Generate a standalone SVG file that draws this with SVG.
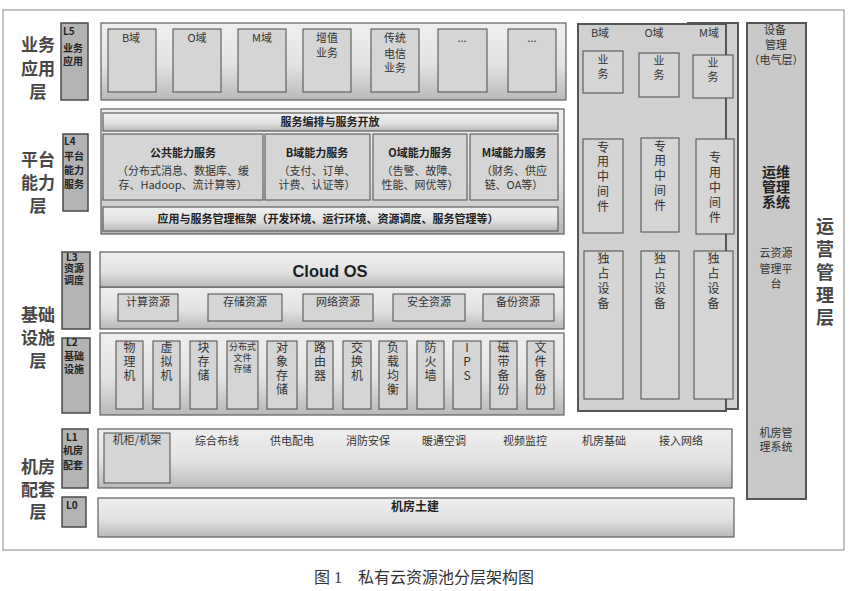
<svg xmlns="http://www.w3.org/2000/svg" width="853" height="591" viewBox="0 0 853 591">
<defs>
<linearGradient id="pg" x1="0" y1="0" x2="0" y2="1">
<stop offset="0" stop-color="#efefef"/>
<stop offset="0.55" stop-color="#e2e2e2"/>
<stop offset="1" stop-color="#b9b9b9"/>
</linearGradient>
<style>
.panel{fill:url(#pg);stroke:#5e5e5e;stroke-width:1.2}
.box{fill:#d5d5d5;stroke:#4a4a4a;stroke-width:1}
.lbox{fill:#b3b3b3;stroke:#4a4a4a;stroke-width:1.5}
.side{fill:#d0d0d0;stroke:#555;stroke-width:2}
.t{font-family:"Noto Sans CJK SC","Liberation Sans",sans-serif;font-size:11px;fill:#333}
.c{text-anchor:middle}
.b{font-weight:bold;fill:#222}
.v{font-family:"Noto Sans CJK SC","Liberation Sans",sans-serif;font-size:12px;fill:#333;text-anchor:middle}
.big{font-family:"Noto Sans CJK SC","Liberation Sans",sans-serif;font-size:17px;font-weight:bold;fill:#474747;text-anchor:middle}
.lt{font-family:"Noto Sans CJK SC","Liberation Sans",sans-serif;font-size:10px;font-weight:bold;fill:#222}
</style>
</defs>
<rect x="3" y="10" width="841" height="540" fill="#fff" stroke="#9a9a9a" stroke-width="1.2"/>

<g id="layer-names">
<text class="big"><tspan x="38" y="51">业务</tspan><tspan x="38" y="75">应用</tspan><tspan x="38" y="98">层</tspan></text>
<text class="big"><tspan x="38" y="166">平台</tspan><tspan x="38" y="189">能力</tspan><tspan x="38" y="212">层</tspan></text>
<text class="big"><tspan x="38" y="321">基础</tspan><tspan x="38" y="344">设施</tspan><tspan x="38" y="367">层</tspan></text>
<text class="big"><tspan x="38" y="473">机房</tspan><tspan x="38" y="496">配套</tspan><tspan x="38" y="518">层</tspan></text>
</g>

<g id="L5">
<rect class="lbox" x="61" y="23" width="27" height="77"/>
<text class="lt"><tspan x="63" y="35">L5</tspan><tspan x="63" y="52">业务</tspan><tspan x="63" y="65">应用</tspan></text>
</g>
<g id="L4">
<rect class="lbox" x="63" y="134" width="25" height="77"/>
<text class="lt"><tspan x="64" y="145">L4</tspan><tspan x="64" y="160">平台</tspan><tspan x="64" y="174">能力</tspan><tspan x="64" y="188">服务</tspan></text>
</g>
<g id="L3">
<rect class="lbox" x="62" y="252" width="28" height="77"/>
<text class="lt"><tspan x="66" y="261">L3</tspan><tspan x="64" y="272">资源</tspan><tspan x="64" y="284">调度</tspan></text>
</g>
<g id="L2">
<rect class="lbox" x="62" y="338" width="28" height="75"/>
<text class="lt"><tspan x="66" y="346">L2</tspan><tspan x="64" y="360">基础</tspan><tspan x="64" y="373">设施</tspan></text>
</g>
<g id="L1">
<rect class="lbox" x="62" y="429" width="26" height="59"/>
<text class="lt"><tspan x="66" y="441">L1</tspan><tspan x="63" y="454">机房</tspan><tspan x="63" y="469">配套</tspan></text>
</g>
<g id="L0">
<rect class="lbox" x="62" y="497" width="24" height="30"/>
<text class="lt"><tspan x="66" y="509">L0</tspan></text>
</g>

<g id="app-layer">
<rect class="panel" x="101" y="23" width="465" height="77"/>
<rect class="box" x="108" y="29" width="48" height="63"/><text class="t c" x="131" y="42">B域</text>
<rect class="box" x="173" y="29" width="48" height="63"/><text class="t c" x="197" y="42">O域</text>
<rect class="box" x="238" y="29" width="48" height="63"/><text class="t c" x="262" y="42">M域</text>
<rect class="box" x="303" y="29" width="48" height="63"/><text class="t c"><tspan x="327" y="42">增值</tspan><tspan x="327" y="57">业务</tspan></text>
<rect class="box" x="371" y="29" width="48" height="63"/><text class="t c"><tspan x="395" y="42">传统</tspan><tspan x="395" y="58">电信</tspan><tspan x="395" y="72">业务</tspan></text>
<rect class="box" x="438" y="29" width="49" height="63"/><text class="t c" x="462" y="42">...</text>
<rect class="box" x="508" y="29" width="48" height="63"/><text class="t c" x="532" y="42">...</text>
</g>

<g id="platform-layer">
<rect class="panel" x="101" y="109" width="463" height="125"/>
<rect class="panel" x="103" y="113" width="455" height="18"/>
<text class="t c b" x="330" y="126">服务编排与服务开放</text>
<rect class="box" x="103" y="134" width="160" height="66"/>
<text class="t c b" x="183" y="157">公共能力服务</text>
<text class="t c"><tspan x="183" y="175">（分布式消息、数据库、缓</tspan><tspan x="183" y="189">存、Hadoop、流计算等）</tspan></text>
<rect class="box" x="265" y="134" width="105" height="66"/>
<text class="t c b" x="317" y="157">B域能力服务</text>
<text class="t c"><tspan x="317" y="175">（支付、订单、</tspan><tspan x="317" y="189">计费、认证等）</tspan></text>
<rect class="box" x="373" y="134" width="94" height="66"/>
<text class="t c b" x="420" y="157">O域能力服务</text>
<text class="t c"><tspan x="420" y="175">（告警、故障、</tspan><tspan x="420" y="189">性能、网优等）</tspan></text>
<rect class="box" x="470" y="134" width="88" height="66"/>
<text class="t c b" x="514" y="157">M域能力服务</text>
<text class="t c"><tspan x="514" y="175">（财务、供应</tspan><tspan x="514" y="189">链、OA等）</tspan></text>
<rect class="panel" x="103" y="207" width="455" height="24"/>
<text class="t c b" x="328" y="223">应用与服务管理框架（开发环境、运行环境、资源调度、服务管理等）</text>
</g>

<g id="resource-layer">
<rect class="panel" x="100" y="287" width="464" height="42"/>
<rect class="panel" x="100" y="252" width="464" height="35"/>
<text x="330" y="277" text-anchor="middle" style="font-family:'Liberation Sans',sans-serif;font-size:16.5px;font-weight:bold;fill:#1e1e1e">Cloud OS</text>
<rect class="box" x="118" y="294" width="60" height="27"/><text class="t c" x="148" y="306">计算资源</text>
<rect class="box" x="208" y="294" width="74" height="27"/><text class="t c" x="245" y="306">存储资源</text>
<rect class="box" x="303" y="294" width="70" height="27"/><text class="t c" x="338" y="306">网络资源</text>
<rect class="box" x="393" y="294" width="72" height="27"/><text class="t c" x="429" y="306">安全资源</text>
<rect class="box" x="483" y="294" width="71" height="27"/><text class="t c" x="518" y="306">备份资源</text>
</g>

<g id="infra-layer">
<rect class="panel" x="100" y="333" width="464" height="82"/>
<rect class="box" x="116" y="341" width="27" height="68"/><text class="v"><tspan x="129.5" y="352">物</tspan><tspan x="129.5" y="366">理</tspan><tspan x="129.5" y="380">机</tspan></text>
<rect class="box" x="153" y="341" width="27" height="68"/><text class="v"><tspan x="166.5" y="352">虚</tspan><tspan x="166.5" y="366">拟</tspan><tspan x="166.5" y="380">机</tspan></text>
<rect class="box" x="190" y="341" width="27" height="68"/><text class="v"><tspan x="203.5" y="352">块</tspan><tspan x="203.5" y="366">存</tspan><tspan x="203.5" y="380">储</tspan></text>
<rect class="box" x="227" y="341" width="31" height="68"/><text class="v" style="font-size:9px"><tspan x="242.5" y="350">分布式</tspan><tspan x="242.5" y="361">文件</tspan><tspan x="242.5" y="372">存储</tspan></text>
<rect class="box" x="267" y="341" width="30" height="68"/><text class="v"><tspan x="282" y="352">对</tspan><tspan x="282" y="366">象</tspan><tspan x="282" y="380">存</tspan><tspan x="282" y="394">储</tspan></text>
<rect class="box" x="307" y="341" width="26" height="68"/><text class="v"><tspan x="320" y="352">路</tspan><tspan x="320" y="366">由</tspan><tspan x="320" y="380">器</tspan></text>
<rect class="box" x="343" y="341" width="28" height="68"/><text class="v"><tspan x="357" y="352">交</tspan><tspan x="357" y="366">换</tspan><tspan x="357" y="380">机</tspan></text>
<rect class="box" x="379" y="341" width="28" height="68"/><text class="v"><tspan x="393" y="352">负</tspan><tspan x="393" y="366">载</tspan><tspan x="393" y="380">均</tspan><tspan x="393" y="394">衡</tspan></text>
<rect class="box" x="417" y="341" width="27" height="68"/><text class="v"><tspan x="430.5" y="352">防</tspan><tspan x="430.5" y="366">火</tspan><tspan x="430.5" y="380">墙</tspan></text>
<rect class="box" x="453" y="341" width="28" height="68"/><text class="v"><tspan x="467" y="352">I</tspan><tspan x="467" y="366">P</tspan><tspan x="467" y="380">S</tspan></text>
<rect class="box" x="490" y="341" width="27" height="68"/><text class="v"><tspan x="503.5" y="352">磁</tspan><tspan x="503.5" y="366">带</tspan><tspan x="503.5" y="380">备</tspan><tspan x="503.5" y="394">份</tspan></text>
<rect class="box" x="527" y="341" width="27" height="68"/><text class="v"><tspan x="540.5" y="352">文</tspan><tspan x="540.5" y="366">件</tspan><tspan x="540.5" y="380">备</tspan><tspan x="540.5" y="394">份</tspan></text>
</g>

<g id="facility-layer">
<rect class="panel" x="98" y="429" width="634" height="59"/>
<rect class="box" x="104" y="433" width="66" height="50"/>
<text class="t c" x="137" y="444">机柜/机架</text>
<text class="t c" x="217" y="445">综合布线</text>
<text class="t c" x="292" y="445">供电配电</text>
<text class="t c" x="368" y="445">消防安保</text>
<text class="t c" x="444" y="445">暖通空调</text>
<text class="t c" x="525" y="445">视频监控</text>
<text class="t c" x="604" y="445">机房基础</text>
<text class="t c" x="681" y="445">接入网络</text>
</g>

<g id="civil-layer">
<rect class="panel" x="98" y="498" width="636" height="39"/>
<text class="t c b" x="415" y="511" style="font-size:12px">机房土建</text>
</g>

<g id="domain-panels">
<rect class="side" x="688" y="23" width="50" height="386"/>
<rect class="side" x="578" y="24" width="148" height="387"/>
<text class="t c" x="600" y="37">B域</text>
<text class="t c" x="654" y="37">O域</text>
<text class="t c" x="709" y="37">M域</text>
<rect class="box" x="583" y="51" width="40" height="42"/><text class="v" style="font-size:11px"><tspan x="603" y="64">业</tspan><tspan x="603" y="78">务</tspan></text>
<rect class="box" x="639" y="53" width="40" height="44"/><text class="v" style="font-size:11px"><tspan x="659" y="65">业</tspan><tspan x="659" y="79">务</tspan></text>
<rect class="box" x="693" y="55" width="40" height="43"/><text class="v" style="font-size:11px"><tspan x="713" y="67">业</tspan><tspan x="713" y="81">务</tspan></text>
<rect class="box" x="583" y="139" width="40" height="94"/><text class="v"><tspan x="603" y="152">专</tspan><tspan x="603" y="166">用</tspan><tspan x="603" y="181">中</tspan><tspan x="603" y="196">间</tspan><tspan x="603" y="211">件</tspan></text>
<rect class="box" x="641" y="138" width="38" height="94"/><text class="v"><tspan x="660" y="151">专</tspan><tspan x="660" y="165">用</tspan><tspan x="660" y="180">中</tspan><tspan x="660" y="195">间</tspan><tspan x="660" y="210">件</tspan></text>
<rect class="box" x="696" y="139" width="38" height="95"/><text class="v"><tspan x="715" y="162">专</tspan><tspan x="715" y="177">用</tspan><tspan x="715" y="192">中</tspan><tspan x="715" y="207">间</tspan><tspan x="715" y="222">件</tspan></text>
<rect class="box" x="584" y="251" width="39" height="148"/><text class="v"><tspan x="603.5" y="263">独</tspan><tspan x="603.5" y="278">占</tspan><tspan x="603.5" y="293">设</tspan><tspan x="603.5" y="308">备</tspan></text>
<rect class="box" x="641" y="251" width="38" height="148"/><text class="v"><tspan x="660" y="263">独</tspan><tspan x="660" y="278">占</tspan><tspan x="660" y="293">设</tspan><tspan x="660" y="308">备</tspan></text>
<rect class="box" x="694" y="251" width="39" height="148"/><text class="v"><tspan x="713.5" y="263">独</tspan><tspan x="713.5" y="278">占</tspan><tspan x="713.5" y="293">设</tspan><tspan x="713.5" y="308">备</tspan></text>
</g>

<g id="ops-system">
<rect class="side" x="747" y="23" width="59" height="476" fill="#c9c9c9" style="fill:#c9c9c9"/>
<text class="t c"><tspan x="775" y="34">设备</tspan><tspan x="776" y="49">管理</tspan><tspan x="776" y="64">（电气层）</tspan></text>
<text class="t c b" style="font-size:14px"><tspan x="776" y="177">运维</tspan><tspan x="776" y="192">管理</tspan><tspan x="776" y="207">系统</tspan></text>
<text class="t c"><tspan x="776" y="257">云资源</tspan><tspan x="776" y="273">管理平</tspan><tspan x="776" y="288">台</tspan></text>
<text class="t c"><tspan x="776" y="437">机房管</tspan><tspan x="776" y="451">理系统</tspan></text>
</g>

<g id="ops-layer-name">
<text class="big" style="font-size:18px"><tspan x="825" y="233">运</tspan><tspan x="825" y="256">营</tspan><tspan x="825" y="279">管</tspan><tspan x="825" y="302">理</tspan><tspan x="825" y="324">层</tspan></text>
</g>

<text x="424" y="583" text-anchor="middle" style="font-family:'Liberation Serif','Noto Sans CJK SC',serif;font-size:16px;fill:#333">图 1　私有云资源池分层架构图</text>
</svg>
